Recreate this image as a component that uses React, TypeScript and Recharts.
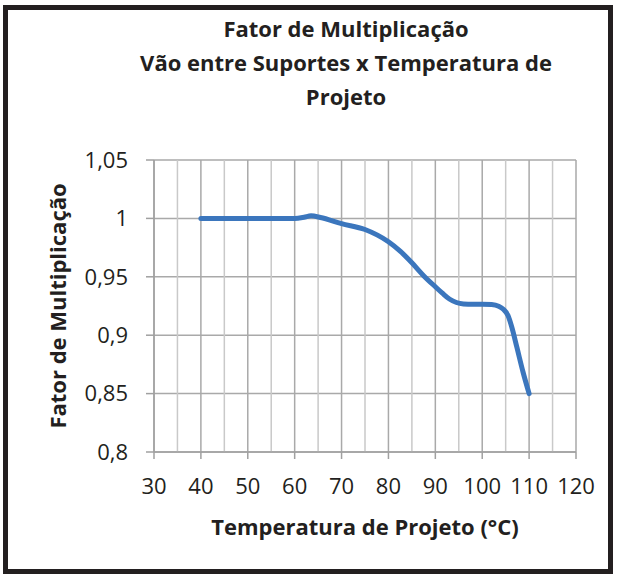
import React from "react";
import { LineChart, Line, XAxis, YAxis, CartesianGrid, ReferenceLine } from "recharts";

const temperatures = [40, 50, 60, 62, 63.5, 65.5, 70, 75, 80, 82.5, 85, 87.5, 90, 91.5, 93, 94.5, 96, 98, 100, 102, 103.5, 104.5, 105.5, 106.3, 107.4, 108.7, 110];
const factors = [1.0, 1.0, 1.0, 1.001, 1.0022, 1.0008, 0.9955, 0.9905, 0.98, 0.972, 0.962, 0.951, 0.9415, 0.936, 0.931, 0.928, 0.9268, 0.9265, 0.9265, 0.9262, 0.9248, 0.9222, 0.9168, 0.907, 0.8895, 0.8685, 0.85];
const xTicks = [30, 40, 50, 60, 70, 80, 90, 100, 110, 120];
const xMinorTicks = [35, 45, 55, 65, 75, 85, 95, 105, 115];
const yTicks = [0.8, 0.85, 0.9, 0.95, 1, 1.05];
const titleLines = ["Fator de Multiplicação", "Vão entre Suportes x Temperatura de", "Projeto"];
const xTitle = "Temperatura de Projeto (°C)";
const yTitle = "Fator de Multiplicação";

const data = temperatures.map((t, i) => ({ t, f: factors[i] }));

const FONT = "'Open Sans', sans-serif";

export default function App() {
  return (
    <div style={{ position: "absolute", left: 0, top: 0, width: 619, height: 574, background: "#fff", fontFamily: FONT }}>
      <LineChart
        width={619}
        height={574}
        data={data}
        margin={{ top: 160, right: 43, bottom: 62, left: 54 }}
        style={{ position: "absolute", left: 0, top: 0 }}
      >
        <CartesianGrid stroke="#a9a9a9" strokeWidth={1.5} />
        {xMinorTicks.map((v) => (
          <ReferenceLine key={v} x={v} stroke="#c9c9c9" strokeWidth={1.5} />
        ))}
        <XAxis
          dataKey="t"
          type="number"
          domain={[30, 120]}
          ticks={xTicks}
          interval={0}
          height={60}
          tickSize={7}
          tickMargin={19}
          stroke="#a0a0a0"
          strokeWidth={1.5}
          tick={{ fill: "#231f20", fontSize: 22, fontFamily: FONT }}
          tickLine={{ stroke: "#a0a0a0", strokeWidth: 1.5 }}
        />
        <YAxis
          type="number"
          domain={[0.8, 1.05]}
          ticks={yTicks}
          interval={0}
          width={100}
          tickSize={8}
          tickMargin={18}
          stroke="#a0a0a0"
          strokeWidth={1.5}
          tickFormatter={(v: number) => String(v).replace(".", ",")}
          tick={{ fill: "#231f20", fontSize: 22, fontFamily: FONT }}
          tickLine={{ stroke: "#a0a0a0", strokeWidth: 1.5 }}
        />
        <Line
          type="monotone"
          dataKey="f"
          stroke="#3b76bd"
          strokeWidth={5}
          strokeLinecap="round"
          strokeLinejoin="round"
          dot={false}
          activeDot={false}
          isAnimationActive={false}
        />
      </LineChart>
      <svg width={619} height={574} style={{ position: "absolute", left: 0, top: 0, pointerEvents: "none" }}>
        {titleLines.map((s, i) => (
          <text
            key={i}
            x={346}
            y={37 + i * 34}
            textAnchor="middle"
            fontFamily={FONT}
            fontWeight="bold"
            fontSize={22}
            fill="#231f20"
          >
            {s}
          </text>
        ))}
        <text x={365} y={535} textAnchor="middle" fontFamily={FONT} fontWeight="bold" fontSize={22} fill="#231f20">
          {xTitle}
        </text>
        <text
          x={66}
          y={306}
          transform="rotate(-90, 66, 306)"
          textAnchor="middle"
          fontFamily={FONT}
          fontWeight="bold"
          fontSize={22}
          fill="#231f20"
        >
          {yTitle}
        </text>
      </svg>
      <div
        style={{
          position: "absolute",
          left: 3,
          top: 5,
          width: 610,
          height: 569,
          border: "5px solid #231f20",
          boxSizing: "border-box",
          pointerEvents: "none",
        }}
      />
    </div>
  );
}
